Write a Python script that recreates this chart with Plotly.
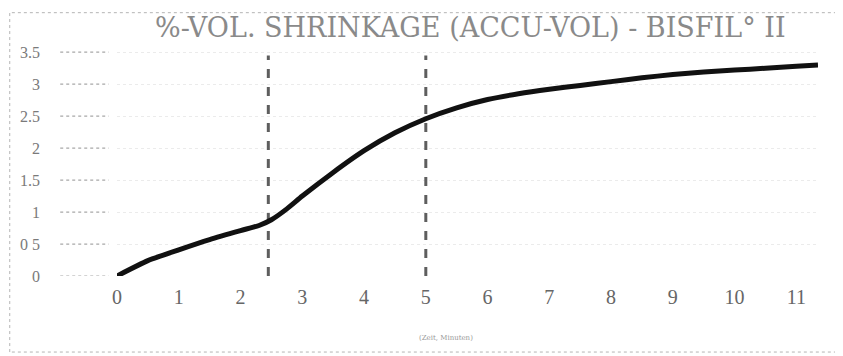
import plotly.graph_objects as go

# Data
time_x = [0, 0.5, 1, 1.5, 2, 2.3, 2.5, 2.75, 3, 3.5, 4, 4.5, 5, 5.5, 6, 6.5, 7, 7.5, 8, 8.5, 9, 9.5, 10, 10.5, 11, 11.35]
shrink_y = [0, 0.24, 0.41, 0.57, 0.71, 0.79, 0.88, 1.05, 1.25, 1.62, 1.96, 2.24, 2.46, 2.63, 2.76, 2.85, 2.92, 2.98, 3.04, 3.1, 3.15, 3.19, 3.22, 3.25, 3.28, 3.3]
marker_times = [2.45, 5.0]
marker_top = 3.45
x_ticks = [0, 1, 2, 3, 4, 5, 6, 7, 8, 9, 10, 11]
y_ticks = [0, 0.5, 1, 1.5, 2, 2.5, 3, 3.5]
y_tick_text = ["0", "0 5", "1", "1.5", "2", "2.5", "3", "3.5"]
title_text = "%-VOL. SHRINKAGE (ACCU-VOL) - BISFIL\u00b0 II"

FONT = "DejaVu Serif, Liberation Serif, serif"
GRAY = "#7a7a7a"

fig = go.Figure()

# dashed vertical markers
for t in marker_times:
    fig.add_trace(go.Scatter(
        x=[t, t], y=[0, marker_top], mode="lines",
        line=dict(color="#5e5e5e", width=3, dash="dash"),
        hoverinfo="skip", showlegend=False))

# main curve
fig.add_trace(go.Scatter(
    x=time_x, y=shrink_y, mode="lines",
    line=dict(color="#111111", width=5, shape="spline", smoothing=0.6),
    cliponaxis=False, showlegend=False))

fig.update_layout(
    width=835, height=348,
    margin=dict(l=109, r=25, t=41, b=80),
    paper_bgcolor="white", plot_bgcolor="white",
    title=dict(text=title_text, xref="paper", x=0.504, xanchor="center",
               yref="container", y=0.943, yanchor="middle",
               font=dict(family=FONT, size=27, color="#8a8a8a")),
    xaxis=dict(range=[0, 11.35], tickmode="array", tickvals=x_ticks,
               ticktext=[str(v) for v in x_ticks], showgrid=False, zeroline=False,
               showline=False, ticks="", ticklabelstandoff=7,
               tickfont=dict(family="Liberation Serif, serif", size=20, color="#666666")),
    yaxis=dict(range=[0, 3.55], tickmode="array", tickvals=y_ticks,
               ticktext=y_tick_text, showgrid=True, gridcolor="#ebebeb",
               griddash="dot", gridwidth=1, zeroline=False, showline=False,
               ticks="", ticklabelstandoff=76,
               tickfont=dict(family="Liberation Serif, serif", size=16, color=GRAY)),
    showlegend=False,
)

# short dotted dashes beside the y tick labels
for v in y_ticks:
    fig.add_shape(type="line", xref="paper", yref="y", x0=-0.081, x1=-0.012, y0=v, y1=v,
                  line=dict(color="#a8a8a8", width=1.2, dash="dot"))

# faint x-axis caption
fig.add_annotation(text="(Zeit, Minuten)", xref="paper", yref="paper", x=0.47, y=-0.3,
                   showarrow=False, font=dict(family=FONT, size=7, color="#999999"))

# dotted outer frame of the scan
frame = dict(color="#b5b5b5", width=1, dash="dot")
fig.add_shape(type="line", xref="paper", yref="paper", x0=-0.15, x1=1.036, y0=1.16, y1=1.16, line=frame)
fig.add_shape(type="line", xref="paper", yref="paper", x0=-0.153, x1=-0.153, y0=-0.335, y1=1.16, line=frame)
fig.add_shape(type="line", xref="paper", yref="paper", x0=-0.15, x1=1.036, y0=-0.335, y1=-0.335, line=frame)

fig.write_html("out.html")
